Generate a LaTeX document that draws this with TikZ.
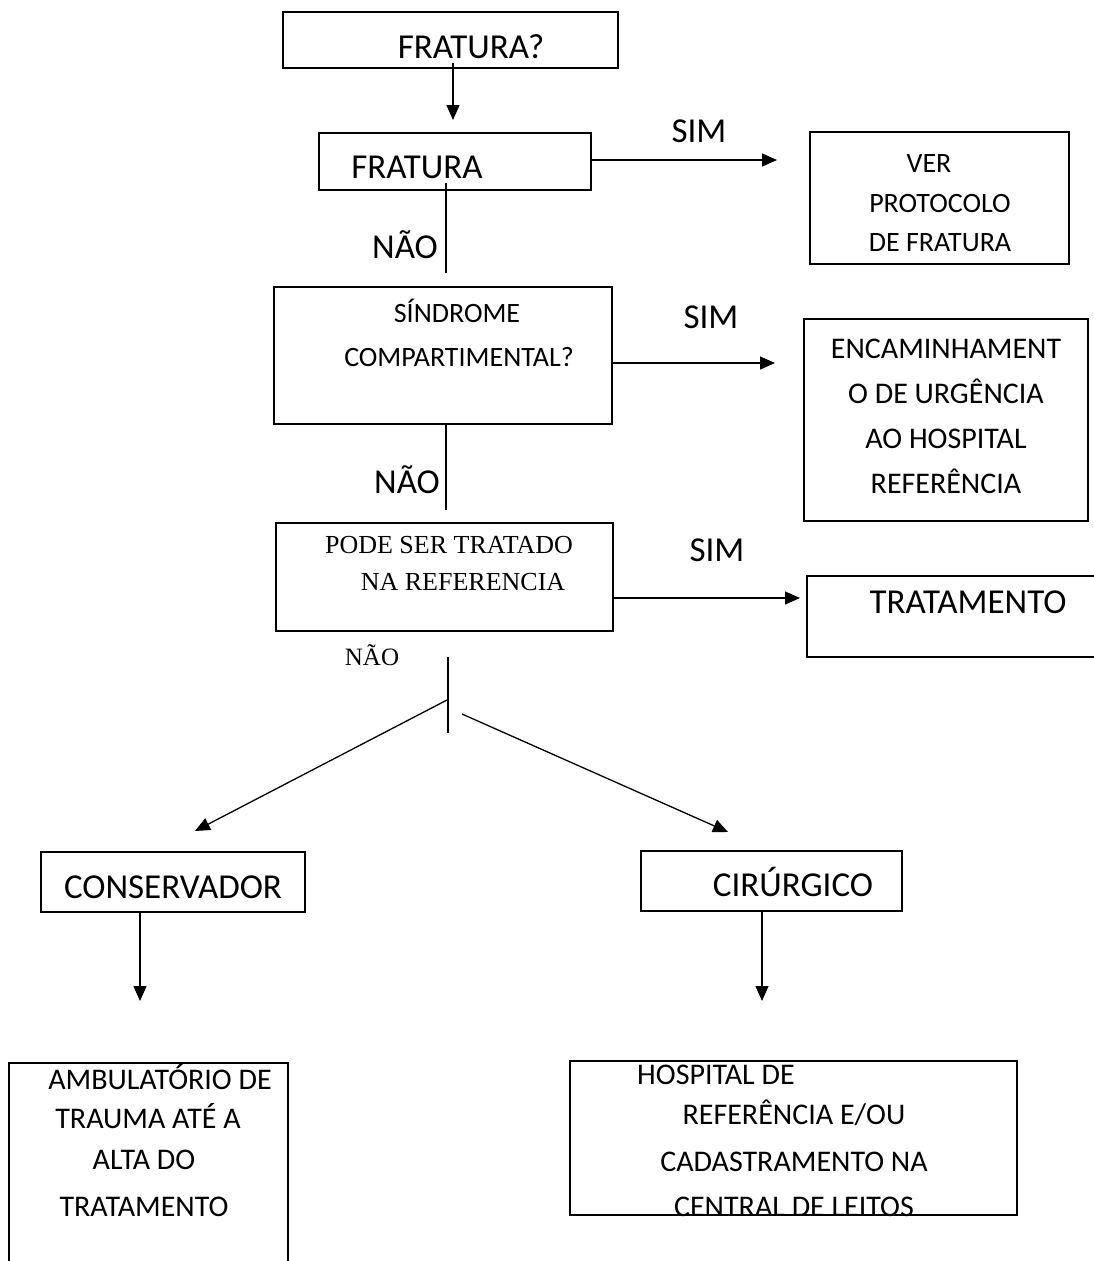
\documentclass[tikz,border=0pt]{standalone}
\usepackage{fontspec}
\setmainfont{Carlito}
\newfontfamily\timesfont{Liberation Serif}
\usetikzlibrary{arrows.meta}
\begin{document}
\begin{tikzpicture}[x=1pt,y=-1pt,
  box/.style={draw, line width=1.6pt, inner sep=0pt},
  frame/.style={inner sep=0pt},
  boxline/.style={line width=1.6pt},
  edge/.style={line width=1.3pt},
  arrowline/.style={edge, -{Triangle[length=15pt,width=13pt]}},
  big/.style={inner sep=0pt, anchor=base, font=\fontsize{35}{42}\selectfont},
  mid/.style={inner sep=0pt, anchor=base, font=\fontsize{30}{36}\selectfont},
  small/.style={inner sep=0pt, anchor=base, font=\fontsize{28}{34}\selectfont},
  serif/.style={inner sep=0pt, anchor=base, font=\timesfont\fontsize{26}{31}\selectfont},
]
\useasboundingbox (0,0) rectangle (1094,1261);

% ---- boxes ----
\node[box, minimum width=335pt, minimum height=56pt]  (b1) at (450.5,40) {};
\node[box, minimum width=272pt, minimum height=57pt]  (b2) at (455,161.5) {};
\node[box, minimum width=259pt, minimum height=132pt] (b3) at (939.5,198) {};
\node[box, minimum width=338pt, minimum height=137pt] (b4) at (443,355.5) {};
\node[box, minimum width=284pt, minimum height=202pt] (b5) at (946,420) {};
\node[box, minimum width=337pt, minimum height=108pt] (b6) at (444.5,577) {};
\node[frame, minimum width=287pt, minimum height=81pt] (b7) at (950.5,616.5) {};
\draw[boxline] (b7.north east) -- (b7.north west) -- (b7.south west) -- (b7.south east);
\node[box, minimum width=264pt, minimum height=60pt]  (b8) at (173,882) {};
\node[box, minimum width=261pt, minimum height=60pt]  (b9) at (771.5,881) {};
\node[frame, minimum width=279pt, minimum height=198pt] (b10) at (148.5,1162) {};
\draw[boxline] (b10.south west) -- (b10.north west) -- (b10.north east) -- (b10.south east);

% ---- texts ----
\node[big] (t1) at (471,58) {FRATURA?};
\node[big] (t2) at (417,178) {FRATURA};
\node[small] (t3a) at (929,172) {VER};
\node[small] (t3b) at (940,212) {PROTOCOLO};
\node[small] (t3c) at (940,251) {DE FRATURA};
\node[small] (t4a) at (457,322) {SÍNDROME};
\node[small] (t4b) at (459,366) {COMPARTIMENTAL?};
\node[mid] (t5a) at (946,358) {ENCAMINHAMENT};
\node[mid] (t5b) at (946,403) {O DE URGÊNCIA};
\node[mid] (t5c) at (946,448) {AO HOSPITAL};
\node[mid] (t5d) at (946,493) {REFERÊNCIA};
\node[serif] (t6a) at (449,553) {PODE SER TRATADO};
\node[serif] (t6b) at (463,590) {NA REFERENCIA};
\node[big] (t7) at (968,613) {TRATAMENTO};
\node[big] (t8) at (173,898) {CONSERVADOR};
\node[big] (t9) at (793,896) {CIRÚRGICO};
\node[mid] (t10a) at (160,1089) {AMBULATÓRIO DE};
\node[mid] (t10b) at (148,1128) {TRAUMA ATÉ A};
\node[mid] (t10c) at (144,1169) {ALTA DO};
\node[mid] (t10d) at (144,1216) {TRATAMENTO};
\node[mid, anchor=base west] (t11a) at (637,1084) {HOSPITAL DE};
\node[mid] (t11b) at (794,1124) {REFERÊNCIA E/OU};
\node[mid] (t11c) at (794,1171) {CADASTRAMENTO NA};
\node[mid] (t11d) at (794,1216) {CENTRAL DE LEITOS};
% bottom edge of the last box is drawn over its last line
\node[box, minimum width=447pt, minimum height=154pt] (b11) at (793.5,1138) {};

% ---- branch labels ----
\node[big] (sim1) at (699,142) {SIM};
\node[big] (sim2) at (711,328) {SIM};
\node[big] (sim3) at (717,561) {SIM};
\node[big] (nao1) at (405,258) {NÃO};
\node[big] (nao2) at (407,493) {NÃO};
\node[serif, font=\timesfont\fontsize{25}{30}\selectfont] (nao3) at (372,665) {NÃO};

% ---- connector ends ----
\coordinate (a1s) at (453,63);   \coordinate (a1e) at (453,120);
\coordinate (l2s) at (446,183);  \coordinate (l2e) at (446,273);
\coordinate (s1e) at (777,160);
\coordinate (s2e) at (775,363);
\coordinate (l4e) at (446,510);
\coordinate (s3e) at (800,598);
\coordinate (l6s) at (448,657);  \coordinate (l6e) at (448,733);
\coordinate (bls) at (447,700);  \coordinate (ble) at (195,831);
\coordinate (brs) at (462,714);  \coordinate (bre) at (728,832);
\coordinate (c8e) at (140,1001);
\coordinate (c9e) at (762,1001);

% ---- connectors ----
\draw[arrowline] (a1s) -- (a1e);
\draw[edge] (l2s) -- (l2e);
\draw[arrowline] (b2.east |- s1e) -- (s1e);
\draw[arrowline] (b4.east |- s2e) -- (s2e);
\draw[edge] (b4.south -| l4e) -- (l4e);
\draw[arrowline] (b6.east |- s3e) -- (s3e);
\draw[edge] (l6s) -- (l6e);
\draw[arrowline] (bls) -- (ble);
\draw[arrowline] (brs) -- (bre);
\draw[arrowline] (b8.south -| c8e) -- (c8e);
\draw[arrowline] (b9.south -| c9e) -- (c9e);
\end{tikzpicture}
\end{document}
